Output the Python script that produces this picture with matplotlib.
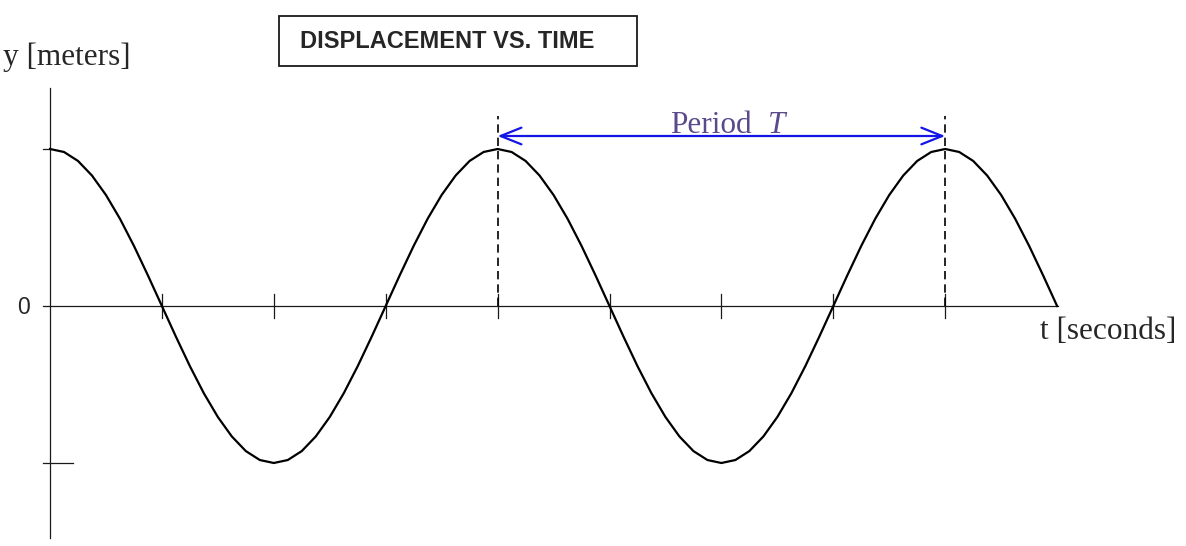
import numpy as np
import matplotlib
matplotlib.use("Agg")
import matplotlib.pyplot as plt
from matplotlib.patches import Rectangle

# time in quarter periods, sampled every 1/8 of a quarter
t = np.linspace(0, 9, 73)
y = [1.000, 0.981, 0.924, 0.831, 0.707, 0.556, 0.383, 0.195, 0.000,
     -0.195, -0.383, -0.556, -0.707, -0.831, -0.924, -0.981, -1.000,
     -0.981, -0.924, -0.831, -0.707, -0.556, -0.383, -0.195, 0.000,
     0.195, 0.383, 0.556, 0.707, 0.831, 0.924, 0.981, 1.000,
     0.981, 0.924, 0.831, 0.707, 0.556, 0.383, 0.195, 0.000,
     -0.195, -0.383, -0.556, -0.707, -0.831, -0.924, -0.981, -1.000,
     -0.981, -0.924, -0.831, -0.707, -0.556, -0.383, -0.195, 0.000,
     0.195, 0.383, 0.556, 0.707, 0.831, 0.924, 0.981, 1.000,
     0.981, 0.924, 0.831, 0.707, 0.556, 0.383, 0.195, 0.000]

x_ticks = [1, 2, 3, 4, 5, 6, 7, 8]
y_ticks = [1, -1]
period_start = 4
period_end = 8
title = "DISPLACEMENT VS. TIME"

W, H = 1186, 546
sx, sy = 111.9, 157.0   # pixels per unit
fig = plt.figure(figsize=(W / 100, H / 100), dpi=100)
ax = fig.add_axes([0, 0, 1, 1])
ax.set_xlim(-50 / sx, (W - 50) / sx)
ax.set_ylim(-(H - 306) / sy, 306 / sy)
ax.axis("off")

ink = "#1a1a1a"

# axes lines
ax.plot([-7 / sx, 9.01], [0, 0], color=ink, lw=0.9)
ax.plot([0, 0], [-(538 - 306) / sy, (306 - 88) / sy], color=ink, lw=0.9)

for xt in x_ticks:
    ax.plot([xt, xt], [-0.076, 0.076], color=ink, lw=0.9)
ax.plot([-7 / sx, 0], [y_ticks[0], y_ticks[0]], color=ink, lw=0.9)
ax.plot([-7 / sx, 23 / sx], [y_ticks[1], y_ticks[1]], color=ink, lw=0.9)

# curve
ax.plot(t, y, color="black", lw=1.6, solid_joinstyle="round")

# period markers
for xp in [period_start, period_end]:
    ax.plot([xp, xp], [0, (306 - 116) / sy], color="black", lw=1.2,
            linestyle=(0, (5, 3)))

ay = (306 - 136) / sy
ax.annotate("", xy=(period_start, ay), xytext=(period_end, ay),
            arrowprops=dict(arrowstyle="<->,head_length=1.5,head_width=0.6",
                            color="#1414e6", lw=1.6, shrinkA=0, shrinkB=0))
ax.text((670 - 50) / sx, (306 - 133) / sy, "Period", color="#5B4A8B",
        fontsize=22.5, family="Liberation Serif", ha="left", va="baseline")
ax.text((768 - 50) / sx, (306 - 133) / sy, "T", color="#5B4A8B",
        fontsize=22.5, family="Liberation Serif", style="italic",
        ha="left", va="baseline")

# labels
ax.text(3 / sx - 50 / sx, (306 - 65) / sy, "y [meters]",
        fontsize=22.5, family="Liberation Serif", color="#262626",
        ha="left", va="baseline")
ax.text((1040 - 50) / sx, (306 - 339) / sy, "t [seconds]",
        fontsize=22.5, family="Liberation Serif", color="#262626",
        ha="left", va="baseline")
ax.text(-26 / sx, -0.012, "0", fontsize=16.5, family="Liberation Sans",
        color="#262626", ha="center", va="center")

# title box
fig.patches.append(Rectangle((279 / W, 1 - 66 / H), 358 / W, 50 / H,
                             transform=fig.transFigure, fill=False,
                             edgecolor=ink, lw=1.3))
fig.text(300 / W, 1 - 41 / H, title, fontsize=17, fontweight="bold",
         family="Liberation Sans", color="#262626", ha="left", va="center")

fig.savefig("out.png", dpi=100)
